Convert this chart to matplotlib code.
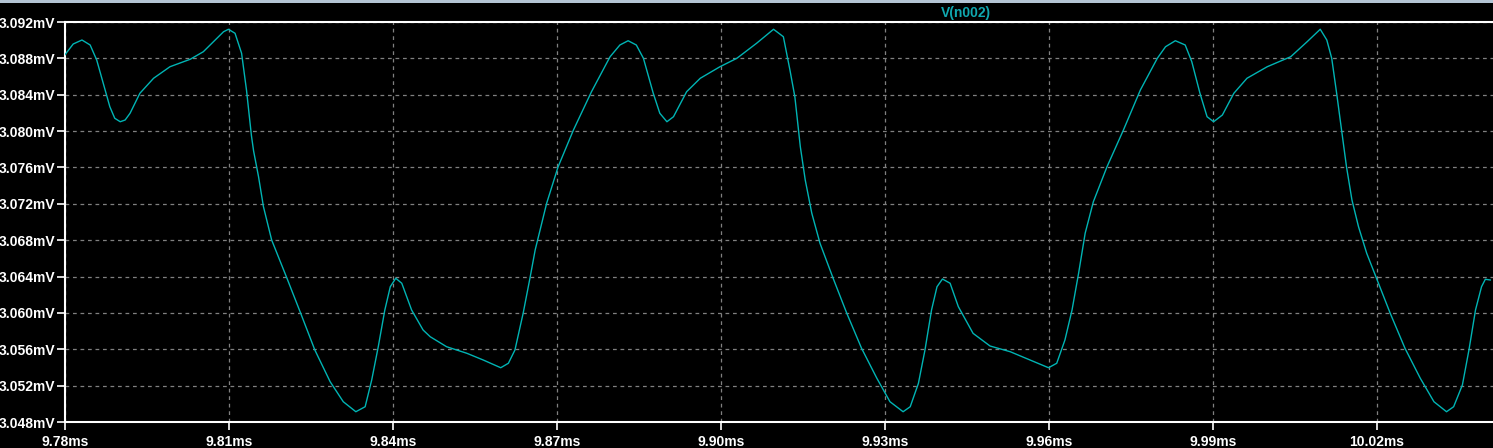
import matplotlib
matplotlib.use("Agg")
import matplotlib.pyplot as plt
from matplotlib.patches import Rectangle
from matplotlib.ticker import FixedLocator, FuncFormatter

# tempo (ms) e tensao (mV)
tempo_ms = [
    9.7800, 9.7802, 9.7815, 9.7831, 9.7846, 9.7858, 9.7870, 9.7882, 9.7891, 9.7901,
    9.7910, 9.7919, 9.7937, 9.7962, 9.7992, 9.8029, 9.8053, 9.8078, 9.8090, 9.8099,
    9.8111, 9.8123, 9.8132, 9.8141, 9.8145, 9.8154, 9.8163, 9.8178, 9.8206, 9.8230,
    9.8257, 9.8285, 9.8309, 9.8332, 9.8349, 9.8361, 9.8373, 9.8385, 9.8395, 9.8405,
    9.8416, 9.8434, 9.8455, 9.8468, 9.8498, 9.8535, 9.8565, 9.8597, 9.8611, 9.8623,
    9.8638, 9.8651, 9.8660, 9.8666, 9.8681, 9.8702, 9.8730, 9.8763, 9.8797, 9.8815,
    9.8830, 9.8845, 9.8858, 9.8876, 9.8888, 9.8901, 9.8913, 9.8937, 9.8962, 9.8998,
    9.9029, 9.9065, 9.9096, 9.9114, 9.9126, 9.9135, 9.9145, 9.9154, 9.9166, 9.9181,
    9.9205, 9.9230, 9.9257, 9.9285, 9.9309, 9.9333, 9.9346, 9.9361, 9.9373, 9.9385,
    9.9395, 9.9405, 9.9419, 9.9434, 9.9461, 9.9492, 9.9529, 9.9565, 9.9599, 9.9614,
    9.9629, 9.9642, 9.9654, 9.9666, 9.9681, 9.9706, 9.9736, 9.9767, 9.9798, 9.9813,
    9.9831, 9.9849, 9.9861, 9.9876, 9.9889, 9.9901, 9.9917, 9.9938, 9.9962, 9.9999,
    10.0042, 10.0072, 10.0096, 10.0108, 10.0117, 10.0126, 10.0135, 10.0144, 10.0154, 10.0166,
    10.0181, 10.0199, 10.0224, 10.0251, 10.0279, 10.0304, 10.0327, 10.0340, 10.0356, 10.0368,
    10.0380, 10.0391, 10.0398, 10.0407,
]
tensao_mv = [
    3.08840, 3.08856, 3.08958, 3.09002, 3.08947, 3.08782, 3.08526, 3.08268, 3.08141, 3.08103,
    3.08122, 3.08196, 3.08416, 3.08581, 3.08708, 3.08790, 3.08873, 3.09021, 3.09093, 3.09120,
    3.09076, 3.08856, 3.08450, 3.07950, 3.07780, 3.07498, 3.07168, 3.06802, 3.06381, 3.06013,
    3.05592, 3.05243, 3.05023, 3.04913, 3.04968, 3.05262, 3.05628, 3.06032, 3.06288, 3.06381,
    3.06326, 3.06032, 3.05812, 3.05738, 3.05628, 3.05556, 3.05482, 3.05397, 3.05446, 3.05592,
    3.05996, 3.06399, 3.06692, 3.06838, 3.07206, 3.07608, 3.08012, 3.08433, 3.08818, 3.08947,
    3.08994, 3.08947, 3.08801, 3.08416, 3.08196, 3.08103, 3.08158, 3.08433, 3.08581, 3.08708,
    3.08801, 3.08966, 3.09120, 3.09038, 3.08672, 3.08378, 3.07828, 3.07462, 3.07096, 3.06766,
    3.06381, 3.05996, 3.05611, 3.05281, 3.05023, 3.04913, 3.04968, 3.05225, 3.05592, 3.06032,
    3.06288, 3.06373, 3.06326, 3.06069, 3.05775, 3.05636, 3.05573, 3.05482, 3.05397, 3.05446,
    3.05702, 3.06032, 3.06436, 3.06876, 3.07223, 3.07608, 3.08012, 3.08452, 3.08801, 3.08928,
    3.08994, 3.08947, 3.08764, 3.08416, 3.08158, 3.08103, 3.08177, 3.08416, 3.08581, 3.08708,
    3.08818, 3.08983, 3.09120, 3.09002, 3.08801, 3.08416, 3.08012, 3.07608, 3.07242, 3.06948,
    3.06656, 3.06381, 3.05996, 3.05611, 3.05281, 3.05023, 3.04913, 3.04968, 3.05207, 3.05592,
    3.06032, 3.06288, 3.06370, 3.06362,
]

ticks_x = [9.78, 9.81, 9.84, 9.87, 9.90, 9.93, 9.96, 9.99, 10.02]
ticks_y = [3.048, 3.052, 3.056, 3.060, 3.064, 3.068, 3.072, 3.076, 3.080, 3.084, 3.088, 3.092]
nome_traco = "V(n002)"

cor_traco = "#00b4b4"
cor_grade = "#808080"
fonte = ["Liberation Sans", "DejaVu Sans"]

fig = plt.figure(figsize=(14.93, 4.48), dpi=100, facecolor="black")
ax = fig.add_axes([65 / 1493, 26 / 448, 1 - 65 / 1493, 400 / 448], facecolor="black")

# faixa clara no topo (borda da janela)
fig.patches.append(Rectangle((0, 445 / 448), 1, 3 / 448, transform=fig.transFigure,
                             facecolor="#b4c4d4", edgecolor="none", zorder=5))

ax.plot(tempo_ms, tensao_mv, color=cor_traco, linewidth=1.0, zorder=3)

ax.set_xlim(9.78, 10.0412)
ax.set_ylim(3.048, 3.092)

ax.xaxis.set_major_locator(FixedLocator(ticks_x))
ax.yaxis.set_major_locator(FixedLocator(ticks_y))
ax.xaxis.set_major_formatter(FuncFormatter(lambda v, p: f"{v:.2f}ms"))
ax.yaxis.set_major_formatter(FuncFormatter(lambda v, p: f"{v:.3f}mV"))

ax.grid(True, color=cor_grade, linestyle=(0, (3, 3)), linewidth=0.9)

for lado in ["left", "top", "bottom"]:
    ax.spines[lado].set_color("white")
    ax.spines[lado].set_linewidth(1.5)
ax.spines["right"].set_visible(False)

ax.tick_params(axis="both", colors="white", direction="out", length=6, width=1.2,
               labelsize=10, pad=1)
ax.tick_params(axis="x", pad=3)
for lbl in ax.get_xticklabels() + ax.get_yticklabels():
    lbl.set_fontweight("bold")
    lbl.set_family(fonte)

fig.text(966 / 1493, 1 - 13 / 448, nome_traco, color="#10a8b0", fontsize=10,
         fontweight="bold", family=fonte, ha="center", va="center")

fig.savefig("out.png", dpi=100, facecolor="black")
